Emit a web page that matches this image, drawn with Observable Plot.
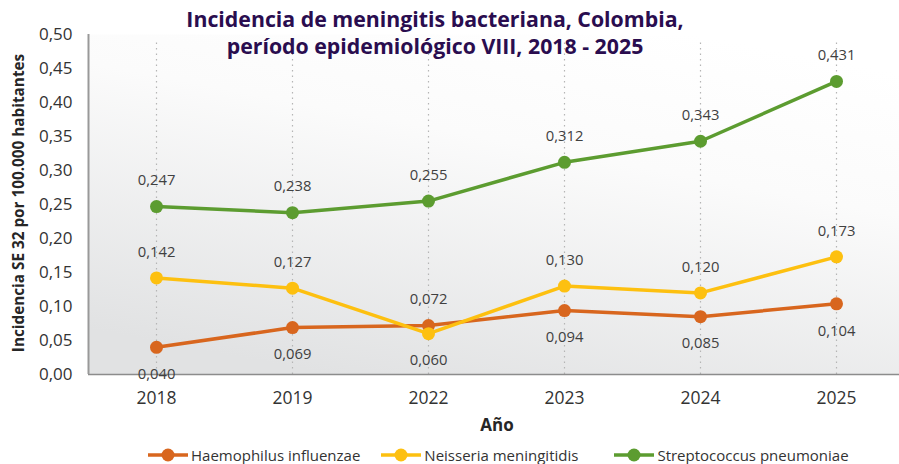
<!DOCTYPE html>
<html>
<head>
<meta charset="utf-8">
<script src="https://cdn.jsdelivr.net/npm/d3@7"></script>
<script src="https://cdn.jsdelivr.net/npm/@observablehq/plot@0.6"></script>
<style>
  html, body { margin: 0; padding: 0; background: #fff; }
  body { width: 899px; height: 464px; overflow: hidden; font-family: "Open Sans", sans-serif; }
  #wrap { position: relative; width: 899px; height: 464px; }
  #chart { position: absolute; left: 0; top: 0; }
  .title { position: absolute; left: 0; width: 870px; top: 5px; text-align: center; font-weight: 700; font-size: 21.3px; line-height: 27px; color: #2a0d4f; }
  .ylab { position: absolute; left: 18px; top: 203px; transform: translate(-50%, -50%) rotate(-90deg); white-space: nowrap; font-weight: 700; font-size: 15.3px; color: #262626; }
  .xlab { position: absolute; left: 497px; top: 424px; transform: translate(-50%, -50%); font-weight: 700; font-size: 17px; color: #262626; }
  .legend { position: absolute; left: 147px; top: 445px; display: flex; align-items: center; font-size: 15px; color: #333; white-space: nowrap; }
  .legend .item { display: flex; align-items: center; margin-right: 20px; }
  .legend .item:nth-child(2) { margin-right: 35px; }
  .legend svg { margin-right: 2px; }
</style>
</head>
<body>
<div id="wrap">
  <div id="chart"></div>
  <div class="title">Incidencia de meningitis bacteriana, Colombia,<br>período epidemiológico VIII, 2018 - 2025</div>
  <div class="ylab">Incidencia SE 32 por 100.000 habitantes</div>
  <div class="xlab">Año</div>
  <div class="legend" id="legend"></div>
</div>
<script>
const years = ["2018", "2019", "2022", "2023", "2024", "2025"];
const seriesNames = ["Haemophilus influenzae", "Neisseria meningitidis", "Streptococcus pneumoniae"];
const seriesColors = ["#d8661e", "#fdc010", "#5c9c30"];
const haemophilus = [0.040, 0.069, 0.072, 0.094, 0.085, 0.104];
const neisseria = [0.142, 0.127, 0.060, 0.130, 0.120, 0.173];
const streptococcus = [0.247, 0.238, 0.255, 0.312, 0.343, 0.431];
// label placement relative to point: 1 = above, -1 = below
const haemophilusLabelPos = [-1, -1, 1, -1, -1, -1];
const neisseriaLabelPos = [1, 1, -1, 1, 1, 1];
const streptococcusLabelPos = [1, 1, 1, 1, 1, 1];
const yTicks = [0, 0.05, 0.10, 0.15, 0.20, 0.25, 0.30, 0.35, 0.40, 0.45, 0.50];

const allValues = [haemophilus, neisseria, streptococcus];
const allPos = [haemophilusLabelPos, neisseriaLabelPos, streptococcusLabelPos];
const data = [];
allValues.forEach((vals, si) => {
  vals.forEach((v, i) => data.push({year: years[i], value: v, series: seriesNames[si], pos: allPos[si][i]}));
});

const locale = d3.formatLocale({decimal: ",", thousands: ".", grouping: [3], currency: ["$", ""]});
const f2 = locale.format(".2f");
const f3 = locale.format(".3f");

const colorScale = {domain: seriesNames, range: seriesColors};

const chart = Plot.plot({
  width: 899,
  height: 464,
  marginLeft: 88,
  marginRight: 0,
  marginTop: 34,
  marginBottom: 90,
  style: {fontFamily: "Open Sans, sans-serif", background: "transparent", overflow: "visible"},
  x: {type: "point", domain: years, padding: 0.5, insetRight: -5},
  y: {domain: [0, 0.5]},
  color: colorScale,
  marks: [
    Plot.frame({fill: "url(#bggrad)", stroke: null}),
    Plot.ruleX(years, {stroke: "#b5b5b5", strokeDasharray: "1.5,4", strokeWidth: 1.2, y1: 0, y2: 0.49}),
    Plot.axisY({ticks: yTicks, tickFormat: f2, tickSize: 0, tickPadding: 16, fontSize: 17, fill: "#333", label: null}),
    Plot.axisX({tickSize: 0, tickPadding: 17, fontSize: 17.5, fill: "#333", label: null}),
    Plot.ruleY([0], {stroke: "#8c8c8c", strokeWidth: 1.5}),
    Plot.ruleX([years[0]], {stroke: "#999", strokeWidth: 2, y1: 0, y2: 0.5, dx: -68}),
    Plot.line(data, {x: "year", y: "value", z: "series", stroke: "series", strokeWidth: 3.5}),
    Plot.dot(data, {x: "year", y: "value", fill: "series", r: 6.5, stroke: null}),
    Plot.text(data.filter(d => d.pos > 0), {x: "year", y: "value", text: d => f3(d.value), dy: -26, fontSize: 14.8, fill: "#404040"}),
    Plot.text(data.filter(d => d.pos < 0), {x: "year", y: "value", text: d => f3(d.value), dy: 27, fontSize: 14.8, fill: "#404040"})
  ]
});

// gradient background defs
const ns = "http://www.w3.org/2000/svg";
const defs = document.createElementNS(ns, "defs");
defs.innerHTML = `<linearGradient id="bggrad" x1="0.75" y1="0" x2="0.3" y2="1">
  <stop offset="0" stop-color="#ffffff"/>
  <stop offset="0.35" stop-color="#fbfbfb"/>
  <stop offset="1" stop-color="#e1e2e3"/>
</linearGradient>`;
chart.insertBefore(defs, chart.firstChild);
document.getElementById("chart").appendChild(chart);

// legend
const legend = document.getElementById("legend");
seriesNames.forEach((name, i) => {
  const item = document.createElement("div");
  item.className = "item";
  item.innerHTML = `<svg width="42" height="16"><line x1="1" y1="8" x2="41" y2="8" stroke="${seriesColors[i]}" stroke-width="3.5"/><circle cx="21" cy="8" r="6.5" fill="${seriesColors[i]}"/></svg><span>${name}</span>`;
  legend.appendChild(item);
});
</script>
</body>
</html>
